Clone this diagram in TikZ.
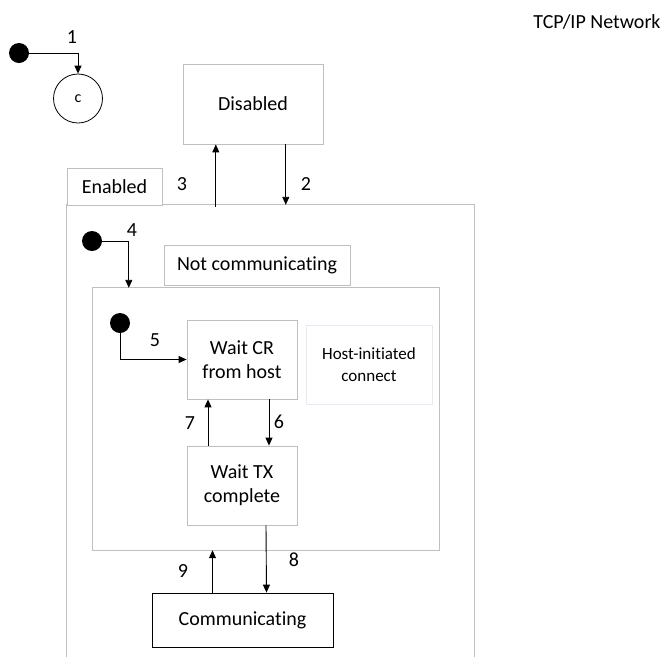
\documentclass[tikz,border=0pt]{standalone}
\usepackage{fontspec}
\setmainfont{Carlito}[Ligatures=NoCommon]
\usetikzlibrary{arrows.meta,calc}
\definecolor{boxgray}{HTML}{BFBFBF}
\definecolor{paleedge}{HTML}{E6EAF0}
\begin{document}
\begin{tikzpicture}[x=1pt,y=-1pt,
  every node/.style={font=\fontsize{20}{24}\selectfont},
  state/.style={draw=boxgray, fill=white, line width=0.8pt, align=center, inner sep=0pt},
  region/.style={draw=none, inner sep=0pt},
  arr/.style={-{Triangle[length=8pt,width=7pt]}, line width=0.9pt},
  init/.style={circle, fill=black, minimum size=20pt, inner sep=0pt},
  lbl/.style={inner sep=0pt}]
  % page
  \path[use as bounding box] (0,0) rectangle (664,657);

  % top-level start and choice state
  \node[init] (i1) at (19,53) {};
  \node[circle, draw, line width=0.8pt, minimum size=49pt, inner sep=0pt,
        font=\fontsize{16}{18}\selectfont] (c) at (78,98.5) {c};
  \draw[arr] (i1) -| (c);
  \node[lbl] (l1) at (72,37) {1};

  % Disabled state
  \node[state, minimum width=140pt, minimum height=80pt] (dis) at (253,104) {Disabled};

  % Enabled composite state (open at the bottom)
  \node[region, minimum width=407pt, minimum height=452pt] (en) at (270.5,431) {};
  \draw[boxgray, line width=0.8pt] (en.south west) -- (en.north west) -- (en.north east) -- (en.south east);
  \node[state, minimum width=95pt, minimum height=37pt] (entab) at (114.5,186.5) {Enabled};

  % transitions between Disabled and Enabled
  \coordinate (a3) at ($(en.north west)+(149,2)$);
  \coordinate (a2) at ($(en.north west)+(219,0)$);
  \draw[arr] (a3) -- (a3 |- dis.south);
  \draw[arr] (a2 |- dis.south) -- (a2);
  \node[lbl] (l3) at (182,184) {3};
  \node[lbl] (l2) at (306,184) {2};

  % Not communicating composite state
  \node[region, minimum width=346pt, minimum height=262pt] (nc) at (266,419) {};
  \draw[boxgray, line width=0.8pt] (nc.north west) rectangle (nc.south east);
  \node[state, minimum width=186pt, minimum height=40pt] (nclbl) at (257,265) {Not communicating};

  \node[init] (i4) at (92,241) {};
  \coordinate (e4) at ($(nc.north west)+(36,0)$);
  \draw[arr] (i4) -| (e4);
  \node[lbl] (l4) at (132,230) {4};

  % inner states
  \node[state, minimum width=110pt, minimum height=79pt] (wcr) at (242,359.5) {Wait CR\\from host};
  \node[state, draw=paleedge, minimum width=126pt, minimum height=79pt,
        font=\fontsize{17}{21.5}\selectfont] (host) at (369,364.5) {Host-initiated\\connect};
  \node[state, minimum width=110pt, minimum height=79pt] (wtx) at (242,485.5) {Wait TX\\complete};

  \node[init] (i5) at (120,323) {};
  \draw[arr] (i5) |- (wcr);
  \node[lbl] (l5) at (155,340) {5};

  \draw[arr] ($(wcr.south)+(27,0)$) -- ($(wtx.north)+(27,0)$);
  \node[lbl] (l6) at (279,422) {6};
  \draw[arr] ($(wtx.north)+(-34,0)$) -- ($(wcr.south)+(-34,0)$);
  \node[lbl] (l7) at (190,423) {7};

  % Communicating state
  \node[state, draw=black, minimum width=181pt, minimum height=54pt] (comm) at (242.5,620) {Communicating};
  \draw[arr] ($(wtx.south)+(24,0)$) -- ($(comm.north)+(24,0)$);
  \node[lbl] (l8) at (294,560) {8};
  \coordinate (b9) at ($(comm.north)+(-30,0)$);
  \draw[arr] (b9) -- (b9 |- nc.south);
  \node[lbl] (l9) at (183,571) {9};

  % caption
  \node[lbl] (net) at (597,22) {TCP/IP Network};
\end{tikzpicture}
\end{document}
